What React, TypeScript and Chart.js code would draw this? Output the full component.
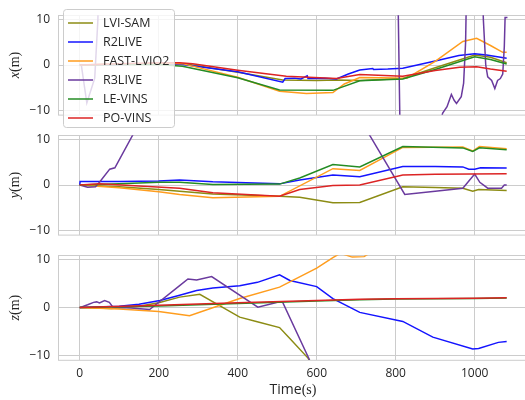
import React, { useEffect, useRef } from 'react';
import { Chart, registerables } from 'chart.js';

Chart.register(...registerables);

type P = [number, number][];

const SERIES_NAMES = ['LVI-SAM', 'R2LIVE', 'FAST-LVIO2', 'R3LIVE', 'LE-VINS', 'PO-VINS'];
const SERIES_COLORS = ['#8c8c14', '#1414ff', '#ff9d1e', '#6a3a9e', '#248c24', '#dc2424'];

const X_TICKS = [0, 200, 400, 600, 800, 1000];
const Y_TICKS = [-10, 0, 10];
const PANEL_LABELS: [string, string][] = [['x', '(m)'], ['y', '(m)'], ['z', '(m)']];
const X_LABEL: [string, string] = ['Time', '(s)'];

// ---- x(m) panel ----
const X_LVI_SAM: P = [[0, 0], [100, 0.2], [200, 0.3], [270, 0.2], [400, -1.6], [514, -3.3], [600, -3.4], [650, -3.3], [709, -3.4], [818, -3.0], [900, -0.6], [1000, 2.2], [1040, 1.7], [1081, 0.5]];
const X_R2LIVE: P = [[0, 0], [100, 0.1], [200, 0.3], [260, 0.1], [400, -1.5], [514, -3.8], [520, -3.0], [544, -2.9], [560, -3.1], [576, -2.4], [578, -3.0], [600, -3.0], [620, -2.9], [650, -3.1], [680, -2.0], [709, -1.1], [742, -0.8], [744, -1.0], [780, -0.9], [818, -0.7], [900, 0.9], [960, 2.1], [1000, 2.5], [1030, 2.2], [1081, 1.5]];
const X_FAST_LVIO2: P = [[0, 0], [100, 0.2], [200, 0.4], [260, 0.3], [400, -2.7], [506, -5.8], [574, -6.3], [641, -6.1], [670, -4.2], [709, -2.75], [760, -2.8], [828, -2.9], [900, 0.8], [970, 5.2], [1005, 5.9], [1040, 4.3], [1071, 2.8], [1081, 2.8]];
const X_R3LIVE: P = [[0, 0], [4, 0], [18, -8.4], [38, -2.9], [46, 10], [52, 40], [780, 40], [805, 20], [812, -20], [830, -40], [900, -40], [912, -13], [919, -10.6], [930, -9.2], [941, -6.5], [948, -7.8], [954, -8.5], [966, -7], [972, -4], [977, 5], [982, 30], [1015, 30], [1022, 10], [1028, 0], [1033, -2.6], [1043, -3.4], [1051, -5.2], [1058, -3.4], [1065, -3], [1071, -2], [1075, 4], [1077, 10.5], [1083, 10.5]];
const X_LE_VINS: P = [[0, 0], [100, 0.1], [200, 0.1], [260, -0.3], [400, -2.8], [506, -5.5], [641, -5.6], [709, -3.5], [818, -3.1], [900, -1.0], [1000, 1.8], [1040, 1.2], [1081, 0.2]];
const X_PO_VINS: P = [[0, 0], [100, 0.3], [200, 0.5], [253, 0.5], [286, 0.3], [400, -1.15], [523, -2.5], [650, -3.0], [709, -2.1], [818, -2.5], [900, -1.2], [962, -0.5], [1005, -0.4], [1040, -0.9], [1081, -1.4]];

// ---- y(m) panel ----
const Y_LVI_SAM: P = [[0, 0], [100, -0.4], [200, -1.0], [253, -1.4], [337, -2.0], [506, -2.5], [557, -2.7], [641, -3.9], [709, -3.85], [818, -0.4], [900, -0.55], [970, -0.7], [995, -1.4], [1010, -1.0], [1081, -1.2]];
const Y_R2LIVE: P = [[0, 0], [1, 0.75], [100, 0.8], [200, 0.9], [253, 1.1], [337, 0.7], [506, 0.25], [557, 1.1], [641, 2.2], [709, 1.8], [818, 4.1], [900, 4.1], [970, 4.0], [985, 3.5], [1000, 3.5], [1015, 3.8], [1081, 3.75]];
const Y_FAST_LVIO2: P = [[0, 0], [100, -0.6], [200, -1.5], [253, -2.1], [337, -2.8], [506, -2.5], [641, 3.6], [709, 3.2], [818, 8.3], [970, 8.4], [995, 7.5], [1012, 8.5], [1081, 8.0]];
const Y_R3LIVE: P = [[0, 0], [20, -0.5], [40, -0.4], [51, 0.7], [76, 3.5], [89, 3.8], [134, 11], [434, 58], [734, 11], [823, -2.1], [900, -1.4], [970, -0.7], [1000, 2.4], [1013, 0.6], [1033, -0.7], [1068, -0.7], [1075, 0], [1081, 0]];
const Y_LE_VINS: P = [[0, 0], [100, 0.3], [200, 0.6], [253, 0.6], [337, 0.1], [506, 0.2], [557, 1.55], [641, 4.5], [709, 4.0], [818, 8.5], [970, 8.2], [995, 7.4], [1012, 8.2], [1081, 7.8]];
const Y_PO_VINS: P = [[0, 0], [50, 0.3], [150, -0.2], [253, -0.7], [337, -1.7], [506, -2.5], [557, -1.0], [641, -0.1], [709, 0], [818, 2.2], [900, 2.4], [1081, 2.5]];

// ---- z(m) panel ----
const Z_LVI_SAM: P = [[0, 0], [80, -0.2], [150, 0.3], [200, 1.0], [253, 2.2], [304, 2.8], [363, 0], [405, -2.0], [447, -2.9], [506, -4.2], [532, -6.5], [578, -10.6], [620, -16]];
const Z_R2LIVE: P = [[0, 0], [100, 0.3], [150, 0.7], [203, 1.5], [253, 2.6], [296, 3.6], [337, 4.1], [405, 4.6], [450, 5.3], [506, 6.9], [532, 5.7], [600, 4.4], [641, 1.9], [709, -1.0], [818, -2.9], [894, -6.2], [995, -8.7], [1010, -8.6], [1060, -7.3], [1081, -7.1]];
const Z_FAST_LVIO2: P = [[0, 0], [100, -0.3], [200, -0.8], [278, -1.7], [405, 1.9], [506, 4.3], [600, 8.3], [641, 10.5], [660, 11.4], [690, 10.6], [720, 10.7], [745, 12], [800, 16]];
const Z_R3LIVE: P = [[0, 0], [20, 0.6], [35, 1.1], [43, 1.2], [50, 1.0], [63, 1.5], [75, 1.1], [84, 0.1], [130, -0.1], [177, -0.4], [253, 4.6], [274, 6.0], [296, 5.8], [334, 6.5], [451, 0.1], [506, 1.2], [514, 1.1], [582, -11], [600, -14]];
const Z_LE_VINS: P = [[0, 0], [200, 0.35], [400, 0.85], [600, 1.4], [709, 1.65], [800, 1.8], [1000, 1.9], [1081, 2.0]];
const Z_PO_VINS: P = [[0, 0], [200, 0.5], [400, 1.0], [600, 1.5], [709, 1.75], [800, 1.85], [1000, 1.95], [1081, 2.05]];

const PANELS: P[][] = [
  [X_LVI_SAM, X_R2LIVE, X_FAST_LVIO2, X_R3LIVE, X_LE_VINS, X_PO_VINS],
  [Y_LVI_SAM, Y_R2LIVE, Y_FAST_LVIO2, Y_R3LIVE, Y_LE_VINS, Y_PO_VINS],
  [Z_LVI_SAM, Z_R2LIVE, Z_FAST_LVIO2, Z_R3LIVE, Z_LE_VINS, Z_PO_VINS],
];

const TICK_FONT = { family: '"Open Sans", "Noto Sans", sans-serif', size: 12 };
const TEXT_COLOR = '#262626';
const GRID_COLOR = '#cccccc';

const fmt = (v: number) => (v < 0 ? '\u2212' + Math.abs(v) : String(v));

function drawMixed(ctx: CanvasRenderingContext2D, parts: { t: string; f: string }[], cx: number, cy: number, rotate: boolean) {
  ctx.save();
  ctx.translate(cx, cy);
  if (rotate) ctx.rotate(-Math.PI / 2);
  let total = 0;
  const widths = parts.map((p) => {
    ctx.font = p.f;
    const w = ctx.measureText(p.t).width;
    total += w;
    return w;
  });
  let x = -total / 2;
  ctx.fillStyle = TEXT_COLOR;
  ctx.textBaseline = 'alphabetic';
  ctx.textAlign = 'left';
  parts.forEach((p, i) => {
    ctx.font = p.f;
    ctx.fillText(p.t, x, 0);
    x += widths[i];
  });
  ctx.restore();
}

function makeChart(canvas: HTMLCanvasElement, idx: number) {
  const isBottom = idx === 2;
  const hasLegend = idx === 0;
  const series = PANELS[idx];
  const panelPlugin = {
    id: 'panelDeco' + idx,
    beforeDatasetsDraw(chart: any) {
      const { ctx, chartArea: a } = chart;
      ctx.save();
      ctx.strokeStyle = GRID_COLOR;
      ctx.lineWidth = 1;
      ctx.strokeRect(Math.round(a.left) + 0.5, Math.round(a.top) + 0.5, a.right - a.left, a.bottom - a.top);
      ctx.restore();
    },
    afterDraw(chart: any) {
      const { ctx, chartArea: a } = chart;
      const [v, u] = PANEL_LABELS[idx];
      drawMixed(
        ctx,
        [
          { t: v, f: 'italic 14px "Liberation Serif", serif' },
          { t: u, f: '14px "Liberation Serif", serif' },
        ],
        19,
        (a.top + a.bottom) / 2,
        true
      );
      if (isBottom) {
        drawMixed(
          ctx,
          [
            { t: X_LABEL[0], f: '14px "Open Sans", sans-serif' },
            { t: X_LABEL[1], f: '14px "Liberation Serif", serif' },
          ],
          (a.left + a.right) / 2,
          a.bottom + 34,
          false
        );
      }
      if (hasLegend) {
        const bx = 63.5, by = 9.5, bw = 111, bh = 118;
        ctx.save();
        ctx.beginPath();
        (ctx as any).roundRect(bx, by, bw, bh, 3);
        ctx.fillStyle = 'rgba(255,255,255,0.8)';
        ctx.fill();
        ctx.strokeStyle = GRID_COLOR;
        ctx.lineWidth = 1;
        ctx.stroke();
        SERIES_NAMES.forEach((name, i) => {
          const y = 23 + i * 19;
          ctx.beginPath();
          ctx.moveTo(68, y);
          ctx.lineTo(93, y);
          ctx.strokeStyle = SERIES_COLORS[i];
          ctx.lineWidth = 1.5;
          ctx.stroke();
          ctx.fillStyle = TEXT_COLOR;
          ctx.font = '12.5px "Open Sans", sans-serif';
          ctx.textBaseline = 'middle';
          ctx.textAlign = 'left';
          ctx.fillText(name, 103, y + 0.5);
        });
        ctx.restore();
      }
    },
  };

  return new Chart(canvas, {
    type: 'line',
    data: {
      datasets: series.map((pts, i) => ({
        label: SERIES_NAMES[i],
        data: pts.map(([x, y]) => ({ x, y })),
        borderColor: SERIES_COLORS[i],
        backgroundColor: SERIES_COLORS[i],
        borderWidth: 1.5,
        pointRadius: 0,
        tension: 0,
        fill: false,
        order: SERIES_NAMES.length - i,
      })),
    },
    options: {
      responsive: false,
      animation: false,
      devicePixelRatio: 1,
      events: [],
      layout: { padding: { top: 6, bottom: isBottom ? 0 : 10, left: 0, right: 7 } },
      plugins: { legend: { display: false }, tooltip: { enabled: false } },
      scales: {
        x: {
          type: 'linear',
          min: -55,
          max: 1135,
          afterBuildTicks: (s: any) => {
            s.ticks = X_TICKS.map((v) => ({ value: v }));
          },
          afterFit: (s: any) => {
            s.height = isBottom ? 40 : 0;
          },
          grid: { color: GRID_COLOR, drawTicks: false, lineWidth: 1 },
          border: { display: false },
          ticks: {
            display: isBottom,
            autoSkip: false,
            maxRotation: 0,
            padding: 6,
            color: TEXT_COLOR,
            font: TICK_FONT,
            callback: (v: any) => fmt(Number(v)),
          },
        },
        y: {
          type: 'linear',
          min: -11,
          max: 11,
          afterBuildTicks: (s: any) => {
            s.ticks = Y_TICKS.map((v) => ({ value: v }));
          },
          afterFit: (s: any) => {
            s.width = 58;
          },
          grid: { color: GRID_COLOR, drawTicks: false, lineWidth: 1 },
          border: { display: false },
          ticks: {
            autoSkip: false,
            padding: 8,
            color: TEXT_COLOR,
            font: TICK_FONT,
            callback: (v: any) => fmt(Number(v)),
          },
        },
      },
    } as any,
    plugins: [panelPlugin],
  });
}

export default function App() {
  const r1 = useRef<HTMLCanvasElement>(null);
  const r2 = useRef<HTMLCanvasElement>(null);
  const r3 = useRef<HTMLCanvasElement>(null);

  useEffect(() => {
    const charts = [r1, r2, r3].map((r, i) => makeChart(r.current as HTMLCanvasElement, i));
    return () => charts.forEach((c) => c.destroy());
  }, []);

  return (
    <div style={{ position: 'absolute', left: 0, top: 0, width: 525, height: 400, overflow: 'hidden', background: '#ffffff' }}>
      <canvas ref={r3} width={535} height={160} style={{ position: 'absolute', left: 0, top: 240 }} />
      <canvas ref={r2} width={535} height={130} style={{ position: 'absolute', left: 0, top: 120 }} />
      <canvas ref={r1} width={535} height={130} style={{ position: 'absolute', left: 0, top: 0 }} />
    </div>
  );
}
